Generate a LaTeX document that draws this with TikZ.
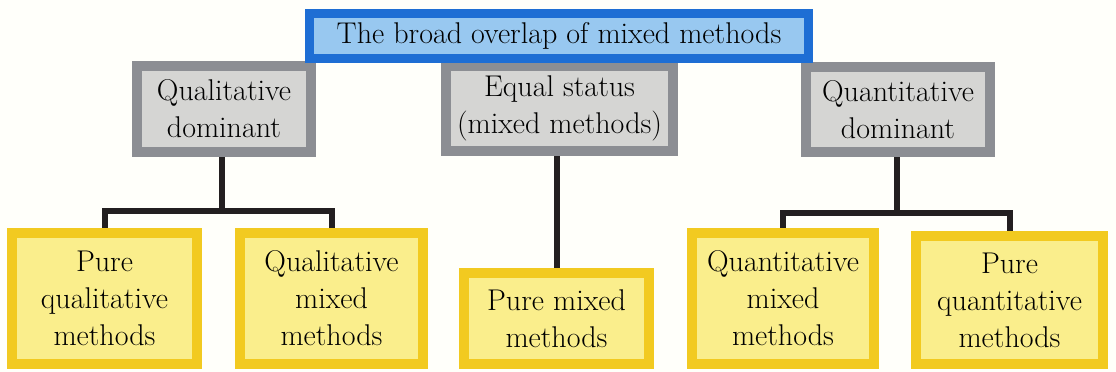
\documentclass[tikz,border=0pt]{standalone}
\usetikzlibrary{backgrounds}
\definecolor{topline}{RGB}{30,110,212}
\definecolor{topfill}{RGB}{152,200,240}
\definecolor{grayline}{RGB}{140,142,147}
\definecolor{grayfill}{RGB}{213,213,211}
\definecolor{leafline}{RGB}{242,202,32}
\definecolor{leaffill}{RGB}{250,238,140}
\definecolor{linkcol}{RGB}{35,31,32}
\begin{document}
\begin{tikzpicture}[x=1pt, y=-1pt,
    box/.style = {rectangle, inner sep=0pt, align=center, text=black,
                  font=\fontsize{30}{37}\selectfont},
    topbox/.style = {box, draw=topline, fill=topfill, line width=9pt},
    groupbox/.style = {box, draw=grayline, fill=grayfill, line width=10pt},
    leafbox/.style = {box, draw=leafline, fill=leaffill, line width=10pt},
    link/.style = {draw=linkcol, line width=6pt}]
  \useasboundingbox (0, 0) rectangle (1116, 372);

  \node [groupbox, minimum width=174pt, minimum height=86pt] (qual) at (224, 109) {Qualitative\\dominant};
  \node [groupbox, minimum width=227pt, minimum height=85pt] (equal) at (559.5, 108.5) {Equal status\\(mixed methods)};
  \node [groupbox, minimum width=184pt, minimum height=85pt] (quan) at (898, 109.5) {Quantitative\\dominant};
  \node [topbox, minimum width=499pt, minimum height=45pt] (top) at (559, 36) {The broad overlap of mixed methods};

  \node [leafbox, minimum width=185pt, minimum height=131pt] (purequal) at (104.5, 298.5) {Pure\\qualitative\\methods};
  \node [leafbox, minimum width=183pt, minimum height=131pt] (qualmix) at (331.5, 298.5) {Qualitative\\mixed\\methods};
  \node [leafbox, minimum width=185pt, minimum height=91pt] (puremix) at (556.5, 318.5) {Pure mixed\\methods};
  \node [leafbox, minimum width=182pt, minimum height=131pt] (quanmix) at (783, 298.5) {Quantitative\\mixed\\methods};
  \node [leafbox, minimum width=187pt, minimum height=128pt] (purequan) at (1009.5, 300) {Pure\\quantitative\\methods};

  \coordinate (jqual) at (222, 211);
  \coordinate (jquan) at (897, 213);

  \begin{pgfonlayer}{background}
    \fill [white!98!yellow] (0, 0) rectangle (1116, 372);
    \draw [link] (qual.south -| jqual) -- (jqual);
    \draw [link] (purequal.north) |- (jqual) -| (qualmix.north);
    \draw [link] (puremix.north) -- (puremix.north |- equal.south);
    \draw [link] (quan.south -| jquan) -- (jquan);
    \draw [link] (quanmix.north) |- (jquan) -| (purequan.north);
  \end{pgfonlayer}
\end{tikzpicture}
\end{document}
